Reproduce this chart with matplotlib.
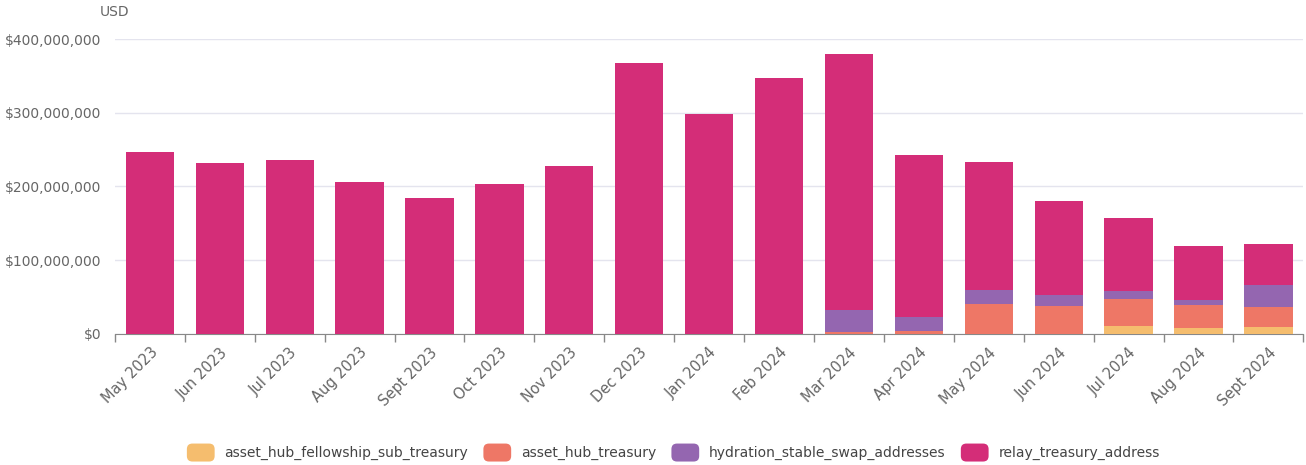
import matplotlib.pyplot as plt
from matplotlib.patches import Patch, FancyBboxPatch
from matplotlib.legend_handler import HandlerPatch
from matplotlib.ticker import FuncFormatter, MultipleLocator, FixedLocator
import numpy as np

months = ['May 2023', 'Jun 2023', 'Jul 2023', 'Aug 2023', 'Sept 2023', 'Oct 2023',
          'Nov 2023', 'Dec 2023', 'Jan 2024', 'Feb 2024', 'Mar 2024', 'Apr 2024',
          'May 2024', 'Jun 2024', 'Jul 2024', 'Aug 2024', 'Sept 2024']

# values in millions of USD
fellowship = [0, 0, 0, 0, 0, 0, 0, 0, 0, 0, 0, 0, 0, 0, 10.8, 8.6, 9.5]
asset_hub = [0, 0, 0, 0, 0, 0, 0, 0, 0, 0, 2.7, 4.5, 40.7, 38.0, 36.7, 30.7, 27.5]
hydration = [0, 0, 0, 0, 0, 0, 0, 0, 0, 0, 29.8, 19.0, 19.0, 14.9, 11.3, 6.7, 29.4]
relay = [247, 232, 236, 206, 184, 203, 228, 367, 298, 347, 347.5, 219.5, 173.3, 127.1, 98.2, 73.0, 55.6]

series = [
    ('asset_hub_fellowship_sub_treasury', fellowship, '#F5BD6E'),
    ('asset_hub_treasury', asset_hub, '#EE7766'),
    ('hydration_stable_swap_addresses', hydration, '#9466B0'),
    ('relay_treasury_address', relay, '#D42D78'),
]


class RoundBox(HandlerPatch):
    def create_artists(self, legend, orig, xd, yd, w, h, fontsize, trans):
        p = FancyBboxPatch((-xd + 1, -yd - 2), w - 2, h + 4,
                           boxstyle='round,pad=0,rounding_size=4',
                           facecolor=orig.get_facecolor(), edgecolor='none',
                           transform=trans)
        return [p]


fig = plt.figure(figsize=(13.06, 4.65), dpi=100)
ax = fig.add_axes([0.088, 0.282, 0.91, 0.634])

x = np.arange(len(months))
bottom = np.zeros(len(months))
for name, vals, color in series:
    v = np.array(vals) * 1e6
    ax.bar(x, v, width=0.69, bottom=bottom, color=color, label=name, zorder=3)
    bottom += v

ax.set_xlim(-0.5, len(months) - 0.5)
ax.set_ylim(0, 400e6)
ax.yaxis.set_major_locator(MultipleLocator(100e6))
ax.yaxis.set_major_formatter(FuncFormatter(lambda v, p: '${:,.0f}'.format(v)))
ax.grid(axis='y', color='#e4e4ee', linewidth=1, zorder=0)
ax.tick_params(axis='y', length=0, labelsize=10, labelcolor='#666666', pad=10)

ax.xaxis.set_major_locator(FixedLocator(np.arange(-0.5, len(months), 1.0)))
ax.xaxis.set_major_formatter(FuncFormatter(lambda v, p: ''))
ax.xaxis.set_minor_locator(FixedLocator(x))
ax.set_xticklabels(months, minor=True, rotation=45, ha='right', rotation_mode='anchor',
                   fontsize=10.5, color='#666666')
ax.tick_params(axis='x', which='major', length=6, color='#888888', width=1)
ax.tick_params(axis='x', which='minor', length=0, pad=8)

for s in ['top', 'right', 'left']:
    ax.spines[s].set_visible(False)
ax.spines['bottom'].set_color('#888888')

fig.text(0.088, 0.975, 'USD', fontsize=10, color='#666666', ha='center', va='center')

handles = [Patch(facecolor=c, label=n) for n, _, c in series]
fig.legend(handles=handles, loc='center', bbox_to_anchor=(0.515, 0.025), ncol=4,
           frameon=False, fontsize=10, handlelength=2.2, handleheight=1.0,
           columnspacing=1.0, handletextpad=0.6, labelcolor='#444444',
           handler_map={Patch: RoundBox()})

fig.savefig('out.png', dpi=100)
